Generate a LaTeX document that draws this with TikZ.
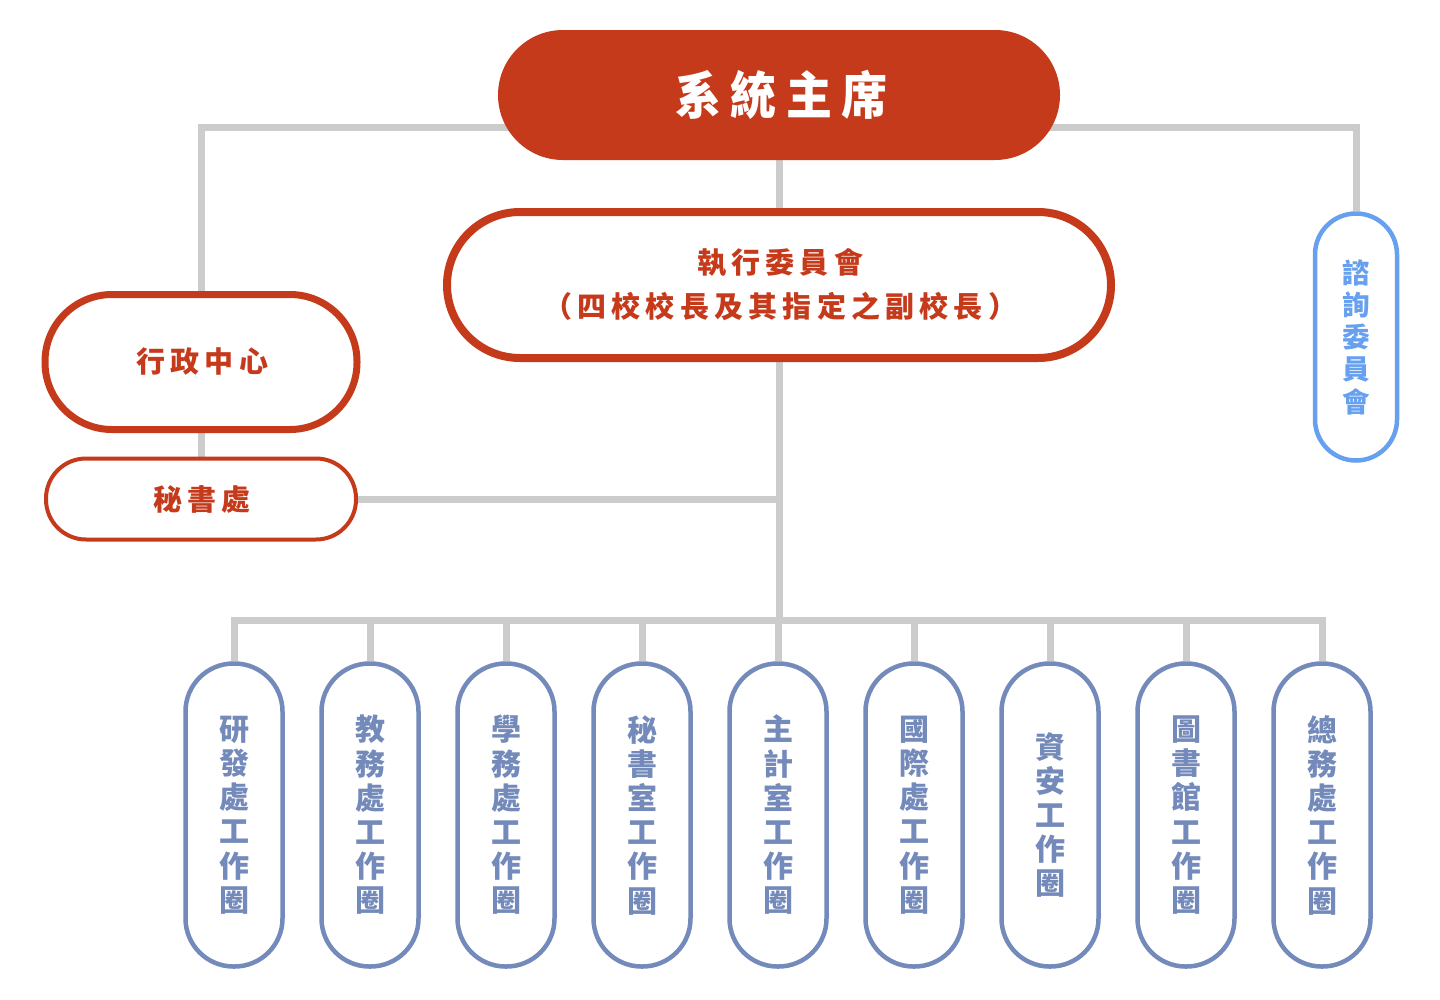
\documentclass[tikz,border=0pt]{standalone}
\usepackage{fontspec}
\newfontfamily\cjk{Noto Sans CJK TC}
\newfontfamily\cjktitle[FakeStretch=0.9,LetterSpace=19]{Noto Sans CJK TC}
\usetikzlibrary{backgrounds,calc}
\definecolor{cred}{HTML}{C53A1B}
\definecolor{cgray}{HTML}{CCCCCC}
\definecolor{cblue}{HTML}{738ABA}
\definecolor{clight}{HTML}{66A0EE}
\begin{document}
\begin{tikzpicture}[x=1pt,y=-1pt,
  conn/.style={draw=cgray, line width=7pt},
  pill/.style={inner sep=0pt, fill=white, align=center},
  chairbox/.style={pill, fill=cred, text=white, rounded corners=65pt,
    minimum width=562pt, minimum height=130pt,
    font=\cjktitle\bfseries\fontsize{51pt}{55pt}\selectfont},
  redbox/.style={pill, draw=cred, text=cred,
    font=\cjk\bfseries\fontsize{29pt}{44pt}\selectfont\addfontfeature{LetterSpace=18}},
  work/.style={pill, draw=cblue, text=cblue, line width=4.5pt, rounded corners=48pt,
    minimum width=97pt, minimum height=303pt,
    font=\cjk\bfseries\fontsize{30pt}{34.2pt}\selectfont},
  advbox/.style={pill, draw=clight, text=clight, line width=4.5pt, rounded corners=41pt,
    minimum width=82pt, minimum height=247pt,
    font=\cjk\bfseries\fontsize{27.5pt}{32.2pt}\selectfont}
]
\useasboundingbox (0,0) rectangle (1440,999);

\node[chairbox] (chair) at (779,95) {\hspace{5pt}系統主席};
\node[redbox, line width=8pt, rounded corners=73pt, minimum width=664pt, minimum height=146pt] (exec) at (779,285)
  {\hspace{2.5pt}執行委員會\\\hspace{2.5pt}（四校校長及其指定之副校長）};
\node[redbox, line width=7pt, rounded corners=67pt, minimum width=312pt, minimum height=135pt] (admin) at (201,362)
  {\hspace{2.5pt}行政中心};
\node[redbox, line width=4pt, rounded corners=40pt, minimum width=310pt, minimum height=81pt] (sec) at (201,499)
  {\hspace{2.5pt}秘書處};
\node[advbox] (adv) at (1356,337) {諮\\詢\\委\\員\\會};

\foreach \t [count=\i] in {{研\\發\\處\\工\\作\\圈},{教\\務\\處\\工\\作\\圈},{學\\務\\處\\工\\作\\圈},
  {秘\\書\\室\\工\\作\\圈},{主\\計\\室\\工\\作\\圈},{國\\際\\處\\工\\作\\圈},{資\\安\\工\\作\\圈},
  {圖\\書\\館\\工\\作\\圈},{總\\務\\處\\工\\作\\圈}}
  \node[work] (w\i) at ({234+136*(\i-1)},815) {\t};

\begin{scope}[on background layer]
  \fill[white] (0,0) rectangle (1440,999);
  \coordinate (topbus) at (779,127);
  \coordinate (lowbus) at (779,620);
  \draw[conn] (admin.north) |- (topbus) -| (adv.north);
  \draw[conn] (chair.south) -- (exec.north);
  \draw[conn] (exec.south) -- (lowbus);
  \draw[conn] (admin.south) -- (sec.north);
  \draw[conn] (sec.east) -- (sec.east -| exec.south);
  \draw[conn] (w1.north) |- (lowbus) -| (w9.north);
  \foreach \i in {2,...,8} \draw[conn] (w\i.north) -- (w\i.north |- lowbus);
\end{scope}
\end{tikzpicture}
\end{document}
